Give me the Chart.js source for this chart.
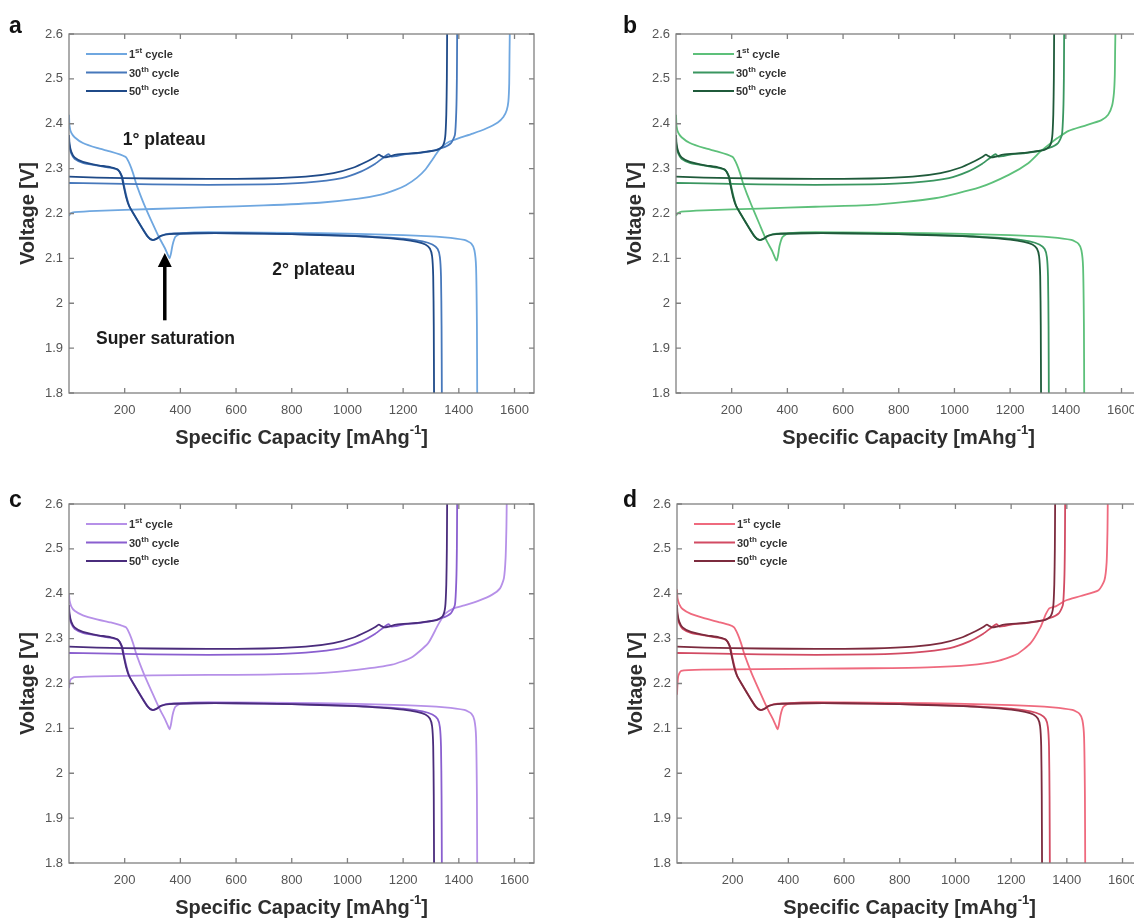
<!DOCTYPE html>
<html>
<head>
<meta charset="utf-8">
<script src="https://cdn.jsdelivr.net/npm/chart.js@4.4.0/dist/chart.umd.min.js"></script>
<style>
  html, body { margin: 0; padding: 0; background: #fff; width: 1134px; height: 920px; overflow: hidden; }
  .panel { position: absolute; }
  canvas { display: block; }
</style>
</head>
<body>
<div class="panel" style="left:0px;top:0px"><canvas id="chart-a" width="560" height="460"></canvas></div>
<div class="panel" style="left:607px;top:0px"><canvas id="chart-b" width="560" height="460"></canvas></div>
<div class="panel" style="left:0px;top:470px"><canvas id="chart-c" width="560" height="460"></canvas></div>
<div class="panel" style="left:608px;top:470px"><canvas id="chart-d" width="560" height="460"></canvas></div>
<script>
// axis ticks
const capTicks = [200, 400, 600, 800, 1000, 1200, 1400, 1600];
const voltTicks = [1.8, 1.9, 2.0, 2.1, 2.2, 2.3, 2.4, 2.5, 2.6];

// 50th and 30th cycles (same cell behaviour in every panel)
const cap50Dis = [0, 2, 8, 20, 50, 100, 150, 175, 188, 196, 205, 215, 235, 260, 282, 298, 312, 330, 360, 450, 600, 800, 1000, 1100, 1200, 1250, 1280, 1296, 1304, 1308, 1310, 1311];
const volt50Dis = [2.375, 2.355, 2.338, 2.325, 2.315, 2.308, 2.303, 2.298, 2.285, 2.262, 2.237, 2.218, 2.196, 2.17, 2.149, 2.141, 2.143, 2.150, 2.154, 2.156, 2.156, 2.154, 2.150, 2.147, 2.142, 2.137, 2.131, 2.122, 2.105, 2.06, 1.95, 1.8];
const cap30Dis = [0, 2, 8, 20, 50, 100, 150, 178, 191, 199, 208, 218, 238, 263, 285, 301, 315, 333, 363, 450, 600, 800, 1000, 1100, 1200, 1270, 1305, 1324, 1332, 1336, 1338, 1339];
const volt30Dis = [2.365, 2.348, 2.334, 2.322, 2.313, 2.307, 2.302, 2.296, 2.282, 2.258, 2.234, 2.214, 2.193, 2.168, 2.147, 2.141, 2.144, 2.151, 2.155, 2.156, 2.156, 2.154, 2.151, 2.148, 2.144, 2.138, 2.131, 2.121, 2.103, 2.06, 1.95, 1.8];
const cap50Chg = [0, 100, 300, 500, 700, 850, 950, 1020, 1070, 1100, 1113, 1122, 1132, 1150, 1175, 1250, 1320, 1342, 1351, 1355, 1357, 1358];
const volt50Chg = [2.282, 2.28, 2.278, 2.277, 2.278, 2.282, 2.29, 2.302, 2.316, 2.326, 2.331, 2.328, 2.325, 2.327, 2.331, 2.335, 2.341, 2.35, 2.37, 2.42, 2.5, 2.6];
const cap30Chg = [0, 100, 300, 500, 700, 850, 980, 1050, 1100, 1130, 1147, 1158, 1175, 1200, 1280, 1340, 1372, 1386, 1391, 1393, 1394];
const volt30Chg = [2.268, 2.267, 2.265, 2.264, 2.265, 2.269, 2.279, 2.294, 2.311, 2.325, 2.332, 2.327, 2.328, 2.331, 2.337, 2.346, 2.357, 2.375, 2.43, 2.5, 2.6];

// 1st cycle, discharge
const cap1Dis = [0, 2, 8, 20, 50, 100, 150, 185, 205, 218, 230, 242, 254, 270, 300, 325, 345, 355, 361, 366, 372, 382, 400, 450, 600, 800, 1000, 1200, 1350, 1420, 1445, 1456, 1462, 1465, 1466];
const volt1DisA = [2.42, 2.395, 2.38, 2.37, 2.357, 2.346, 2.338, 2.331, 2.325, 2.31, 2.29, 2.265, 2.245, 2.22, 2.178, 2.145, 2.122, 2.108, 2.10, 2.11, 2.13, 2.148, 2.155, 2.158, 2.158, 2.157, 2.155, 2.152, 2.147, 2.141, 2.133, 2.118, 2.08, 1.95, 1.8];
const volt1DisB = [2.42, 2.395, 2.38, 2.37, 2.357, 2.346, 2.338, 2.331, 2.325, 2.31, 2.29, 2.265, 2.245, 2.22, 2.176, 2.14, 2.117, 2.102, 2.095, 2.105, 2.128, 2.147, 2.155, 2.158, 2.158, 2.157, 2.155, 2.152, 2.147, 2.141, 2.133, 2.118, 2.08, 1.95, 1.8];
const volt1DisC = [2.40, 2.385, 2.372, 2.362, 2.352, 2.343, 2.336, 2.33, 2.325, 2.31, 2.29, 2.265, 2.245, 2.22, 2.178, 2.144, 2.12, 2.106, 2.098, 2.108, 2.13, 2.148, 2.155, 2.158, 2.158, 2.157, 2.155, 2.152, 2.147, 2.141, 2.133, 2.118, 2.08, 1.95, 1.8];
const volt1DisD = [2.41, 2.39, 2.377, 2.366, 2.355, 2.345, 2.337, 2.331, 2.325, 2.31, 2.29, 2.265, 2.245, 2.22, 2.178, 2.144, 2.12, 2.106, 2.098, 2.108, 2.13, 2.148, 2.155, 2.158, 2.158, 2.157, 2.155, 2.152, 2.147, 2.141, 2.133, 2.118, 2.08, 1.95, 1.8];

// 1st cycle, charge
const cap1ChgA = [0, 5, 20, 100, 300, 500, 700, 900, 1040, 1120, 1170, 1210, 1250, 1280, 1305, 1325, 1342, 1365, 1400, 1450, 1500, 1540, 1560, 1572, 1578, 1581, 1582, 1583];
const volt1ChgA = [2.195, 2.2, 2.203, 2.206, 2.21, 2.214, 2.218, 2.224, 2.233, 2.242, 2.252, 2.263, 2.28, 2.298, 2.32, 2.338, 2.35, 2.36, 2.368, 2.378, 2.39, 2.403, 2.415, 2.43, 2.45, 2.49, 2.55, 2.6];
const cap1ChgB = [0, 5, 20, 100, 300, 500, 700, 930, 1090, 1195, 1265, 1312, 1338, 1370, 1410, 1470, 1528, 1552, 1566, 1573, 1576, 1577, 1578];
const volt1ChgB = [2.195, 2.2, 2.204, 2.207, 2.211, 2.215, 2.219, 2.234, 2.258, 2.286, 2.312, 2.34, 2.353, 2.368, 2.384, 2.396, 2.408, 2.42, 2.44, 2.47, 2.51, 2.56, 2.6];
const cap1ChgC = [0, 5, 20, 100, 300, 500, 700, 900, 1040, 1160, 1230, 1290, 1325, 1350, 1380, 1420, 1470, 1520, 1548, 1562, 1568, 1571, 1572];
const volt1ChgC = [2.19, 2.208, 2.214, 2.216, 2.218, 2.219, 2.22, 2.223, 2.231, 2.242, 2.258, 2.29, 2.33, 2.355, 2.367, 2.374, 2.384, 2.398, 2.412, 2.435, 2.48, 2.55, 2.6];
const cap1ChgD = [0, 4, 15, 100, 300, 500, 700, 900, 1050, 1150, 1220, 1270, 1305, 1325, 1338, 1360, 1396, 1450, 1514, 1535, 1543, 1546, 1547];
const volt1ChgD = [2.175, 2.215, 2.228, 2.231, 2.232, 2.233, 2.234, 2.236, 2.241, 2.25, 2.265, 2.29, 2.325, 2.355, 2.368, 2.372, 2.385, 2.395, 2.408, 2.43, 2.47, 2.54, 2.6];

// colours: 1st, 30th, 50th
const bluePalette = ['#6fa7e0', '#4778bb', '#1f4a88'];
const greenPalette = ['#5dc07a', '#3a9660', '#1f5a3a'];
const purplePalette = ['#b690e8', '#8a5fcf', '#4a2c7c'];
const redPalette = ['#ef6a7e', '#d24b63', '#7c2b3e'];

const cycleLabels = [['1', 'st'], ['30', 'th'], ['50', 'th']];

const axisColor = '#808080';
const tickColor = '#555';
const titleColor = '#2e2e2e';
const baseFont = "'Liberation Sans', Arial, sans-serif";

function toPoints(xs, ys) {
  return xs.map((x, i) => ({ x: x, y: ys[i] }));
}

function curve(xs, ys, color, order) {
  return {
    data: toPoints(xs, ys),
    borderColor: color,
    borderWidth: 1.8,
    pointRadius: 0,
    tension: 0.2,
    fill: false,
    order: order
  };
}

function drawSup(ctx, x, y, parts, bigFont, smallFont, rise) {
  // parts: [text, isSup]
  parts.forEach(([txt, sup]) => {
    ctx.font = sup ? smallFont : bigFont;
    ctx.fillText(txt, x, sup ? y - rise : y);
    x += ctx.measureText(txt).width;
  });
  return x;
}

function supWidth(ctx, parts, bigFont, smallFont) {
  let w = 0;
  parts.forEach(([txt, sup]) => {
    ctx.font = sup ? smallFont : bigFont;
    w += ctx.measureText(txt).width;
  });
  return w;
}

const panelDecor = {
  id: 'panelDecor',
  afterDatasetsDraw(chart, args, opts) {
    const { ctx, chartArea: area, scales: { x, y } } = chart;
    const tickLen = 5;
    ctx.save();
    ctx.strokeStyle = axisColor;
    ctx.lineWidth = 1.3;
    ctx.strokeRect(area.left, area.top, area.right - area.left, area.bottom - area.top);
    ctx.beginPath();
    x.ticks.forEach(t => {
      const px = x.getPixelForValue(t.value);
      ctx.moveTo(px, area.bottom); ctx.lineTo(px, area.bottom - tickLen);
      ctx.moveTo(px, area.top); ctx.lineTo(px, area.top + tickLen);
    });
    y.ticks.forEach(t => {
      const py = y.getPixelForValue(t.value);
      ctx.moveTo(area.left, py); ctx.lineTo(area.left + tickLen, py);
      ctx.moveTo(area.right, py); ctx.lineTo(area.right - tickLen, py);
    });
    ctx.stroke();

    // legend in the top left corner
    ctx.textBaseline = 'middle';
    ctx.fillStyle = '#333';
    opts.palette.forEach((color, i) => {
      const ly = area.top + 20 + i * 18.5;
      ctx.strokeStyle = color;
      ctx.lineWidth = 2;
      ctx.beginPath();
      ctx.moveTo(area.left + 17, ly);
      ctx.lineTo(area.left + 58, ly);
      ctx.stroke();
      const [num, sup] = cycleLabels[i];
      drawSup(ctx, area.left + 60, ly + 1, [[num, false], [sup, true], [' cycle', false]],
        'bold 11px ' + baseFont, 'bold 8px ' + baseFont, 4);
    });

    // notes on the first panel
    if (opts.notes) {
      ctx.fillStyle = '#1c1c1c';
      ctx.font = 'bold 17.5px ' + baseFont;
      ctx.textBaseline = 'middle';
      ctx.textAlign = 'left';
      opts.notes.texts.forEach(n => {
        ctx.fillText(n.text, x.getPixelForValue(n.x), y.getPixelForValue(n.y));
      });
      const a = opts.notes.arrow;
      const ax = x.getPixelForValue(a.x);
      const tip = y.getPixelForValue(a.to);
      const tail = y.getPixelForValue(a.from);
      ctx.strokeStyle = '#000';
      ctx.lineWidth = 3.5;
      ctx.beginPath();
      ctx.moveTo(ax, tail);
      ctx.lineTo(ax, tip + 10);
      ctx.stroke();
      ctx.fillStyle = '#000';
      ctx.beginPath();
      ctx.moveTo(ax, tip);
      ctx.lineTo(ax - 7, tip + 14);
      ctx.lineTo(ax + 7, tip + 14);
      ctx.closePath();
      ctx.fill();
    }
    ctx.restore();
  },
  afterDraw(chart, args, opts) {
    const { ctx, chartArea: area } = chart;
    ctx.save();
    ctx.fillStyle = titleColor;
    ctx.textBaseline = 'middle';
    ctx.textAlign = 'left';

    // x title with superscript unit
    const big = 'bold 20px ' + baseFont;
    const small = 'bold 13px ' + baseFont;
    const parts = [['Specific Capacity [mAhg', false], ['-1', true], [']', false]];
    const w = supWidth(ctx, parts, big, small);
    drawSup(ctx, (area.left + area.right) / 2 - w / 2, area.bottom + 45, parts, big, small, 8);

    // y title
    ctx.translate(28, (area.top + area.bottom) / 2);
    ctx.rotate(-Math.PI / 2);
    ctx.textAlign = 'center';
    ctx.font = big;
    ctx.fillText('Voltage [V]', 0, 0);
    ctx.setTransform(1, 0, 0, 1, 0, 0);

    // panel letter
    ctx.fillStyle = '#111';
    ctx.textAlign = 'left';
    ctx.textBaseline = 'alphabetic';
    ctx.font = 'bold 23px ' + baseFont;
    ctx.fillText(opts.letter, opts.letterX, opts.letterY);
    ctx.restore();
  }
};

function makePanel(id, palette, first, letter, letterX, letterY, notes) {
  const datasets = [
    curve(cap1Dis, first.dis, palette[0], 2),
    curve(first.chgCap, first.chg, palette[0], 2),
    curve(cap30Dis, volt30Dis, palette[1], 1),
    curve(cap30Chg, volt30Chg, palette[1], 1),
    curve(cap50Dis, volt50Dis, palette[2], 0),
    curve(cap50Chg, volt50Chg, palette[2], 0)
  ];
  const tickFont = { family: baseFont, size: 13 };
  return new Chart(document.getElementById(id).getContext('2d'), {
    type: 'line',
    data: { datasets: datasets },
    options: {
      responsive: false,
      animation: false,
      events: [],
      layout: { padding: { top: 34, right: 26, left: 0, bottom: 0 } },
      scales: {
        x: {
          type: 'linear',
          min: 0,
          max: 1670,
          afterBuildTicks: s => { s.ticks = capTicks.map(v => ({ value: v })); },
          afterFit: s => { s.height = 67; },
          grid: { display: false, drawTicks: false },
          border: { display: false },
          ticks: { font: tickFont, color: tickColor, padding: 10, maxRotation: 0, autoSkip: false, callback: v => String(v) }
        },
        y: {
          type: 'linear',
          min: 1.8,
          max: 2.6,
          afterBuildTicks: s => { s.ticks = voltTicks.map(v => ({ value: v })); },
          afterFit: s => { s.width = 69; },
          grid: { display: false, drawTicks: false },
          border: { display: false },
          ticks: { font: tickFont, color: tickColor, padding: 6, callback: v => String(+Number(v).toFixed(1)) }
        }
      },
      plugins: {
        legend: { display: false },
        tooltip: { enabled: false },
        panelDecor: { palette: palette, letter: letter, letterX: letterX, letterY: letterY, notes: notes }
      }
    },
    plugins: [panelDecor]
  });
}

const notesA = {
  texts: [
    { text: '1° plateau', x: 193, y: 2.364 },
    { text: '2° plateau', x: 730, y: 2.074 },
    { text: 'Super saturation', x: 97, y: 1.920 }
  ],
  arrow: { x: 344, from: 1.962, to: 2.112 }
};

makePanel('chart-a', bluePalette, { dis: volt1DisA, chgCap: cap1ChgA, chg: volt1ChgA }, 'a', 9, 33, notesA);
makePanel('chart-b', greenPalette, { dis: volt1DisB, chgCap: cap1ChgB, chg: volt1ChgB }, 'b', 16, 33, null);
makePanel('chart-c', purplePalette, { dis: volt1DisC, chgCap: cap1ChgC, chg: volt1ChgC }, 'c', 9, 37, null);
makePanel('chart-d', redPalette, { dis: volt1DisD, chgCap: cap1ChgD, chg: volt1ChgD }, 'd', 15, 37, null);
</script>
</body>
</html>
